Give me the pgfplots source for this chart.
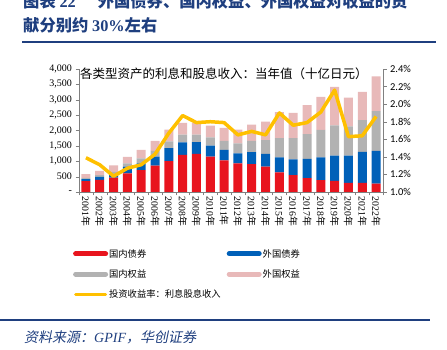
\documentclass[border=0pt]{standalone}
\usepackage{fontspec}
\usepackage{pgfplots}
\usepackage{pgfplotstable}
\pgfplotsset{compat=1.18}
\setmainfont{Liberation Serif}
\newfontfamily\cjk{Noto Sans CJK SC}
\newfontfamily\cjki{Noto Sans CJK SC}[FakeSlant=0.2]
\newfontfamily\carl{Carlito}
\definecolor{cRed}{HTML}{E8141E}
\definecolor{cBlue}{HTML}{0060B8}
\definecolor{cGrey}{HTML}{B2B2B2}
\definecolor{cPink}{HTML}{E8B9B9}
\definecolor{cYel}{HTML}{FFC000}
\definecolor{cNavy}{HTML}{1F3F7F}
\definecolor{cAx}{HTML}{808080}
\newcommand{\yr}[1]{#1{\cjk 年}}
\pgfplotstableread{
x red blue grey pink rate
0 351 65 44 120 1.39
1 395 98 55 142 1.31
2 465 83 110 208 1.18
3 603 219 110 208 1.27
4 712 220 164 274 1.31
5 855 296 186 329 1.43
6 1008 417 219 384 1.67
7 1206 405 252 384 1.87
8 1238 384 241 384 1.79
9 1151 361 264 383 1.80
10 1030 340 296 416 1.79
11 932 328 318 450 1.65
12 910 383 373 526 1.69
13 822 416 450 602 1.65
14 636 493 625 843 1.90
15 548 515 691 822 1.76
16 449 625 811 943 1.79
17 384 745 888 1074 1.91
18 362 822 986 1250 2.16
19 296 888 953 932 1.63
20 296 1008 1030 921 1.64
21 274 1063 1293 1129 1.86
}\data
\begin{document}
\begin{tikzpicture}[x=1pt,y=1pt]
\useasboundingbox (0,0) rectangle (447,350);
% titles
\node[anchor=west,text=cNavy,font=\cjk\bfseries\fontsize{16.3}{17}\selectfont,inner sep=0] at (23,349) {图表 {\rmfamily\bfseries 22}\hspace{22pt}外国债券、国内权益、外国权益对收益的贡};
\node[anchor=west,text=cNavy,font=\cjk\bfseries\fontsize{16.3}{17}\selectfont,inner sep=0] at (23,325) {献分别约 {\rmfamily\bfseries 30\%}左右};
\draw[cNavy,line width=1.5pt] (22,308) -- (436,308);
\begin{axis}[
  at={(79pt,158pt)}, anchor=south west,
  width=304pt, height=123pt, scale only axis,
  xmin=-0.5, xmax=21.5, ymin=0, ymax=4000,
  ybar stacked, bar width=9pt,
  axis x line*=bottom, axis y line*=left,
  axis line style={draw=cAx,-},
  tick align=outside,
  major tick length=3.5pt,
  ytick={0,500,...,4000},
  yticklabels={-,500,{1,000},{1,500},{2,000},{2,500},{3,000},{3,500},{4,000}},
  yticklabel style={font=\fontsize{10}{10}\selectfont},
  y tick style={draw=cAx},
  xtick={0,...,21},
  xticklabels={\yr{2001},\yr{2002},\yr{2003},\yr{2004},\yr{2005},\yr{2006},\yr{2007},\yr{2008},\yr{2009},\yr{2010},\yr{2011},\yr{2012},\yr{2013},\yr{2014},\yr{2015},\yr{2016},\yr{2017},\yr{2018},\yr{2019},\yr{2020},\yr{2021},\yr{2022}},
  xticklabel style={rotate=-90,anchor=west,font=\fontsize{9.8}{10}\selectfont,inner sep=1pt},
  major x tick style={draw=none},
  minor xtick={-0.5,0.5,...,21.5},
  minor x tick style={draw=cAx},
  minor tick length=3.5pt,
  legend columns=2,
  legend style={at={(-0.02,-0.455)},anchor=north west,draw=none,fill=none,inner sep=0pt,
    font=\cjk\fontsize{9.3}{10}\selectfont,row sep=9pt,
    nodes={inner sep=1pt},
    /tikz/every even column/.append style={column sep=5pt}},
  legend cell align=left,
]
\addplot[fill=cRed,draw=none,forget plot] table[x=x,y=red]{\data};
\addplot[fill=cBlue,draw=none,forget plot] table[x=x,y=blue]{\data};
\addplot[fill=cGrey,draw=none,forget plot] table[x=x,y=grey]{\data};
\addplot[fill=cPink,draw=none,forget plot] table[x=x,y=pink]{\data};
\addlegendimage{legend image code/.code={\draw[line width=5pt,cRed,line cap=round] (0pt,0pt) -- (30pt,0pt);}}
\addlegendentry{国内债券}
\addlegendimage{legend image code/.code={\draw[line width=5pt,cBlue,line cap=round] (0pt,0pt) -- (30pt,0pt);}}
\addlegendentry{外国债券}
\addlegendimage{legend image code/.code={\draw[line width=5pt,cGrey,line cap=round] (0pt,0pt) -- (30pt,0pt);}}
\addlegendentry{国内权益}
\addlegendimage{legend image code/.code={\draw[line width=5pt,cPink,line cap=round] (0pt,0pt) -- (30pt,0pt);}}
\addlegendentry{外国权益}
\addlegendimage{legend image code/.code={\draw[line width=2.8pt,cYel,line cap=round] (0pt,0pt) -- (30pt,0pt);}}
\addlegendentry{投资收益率：利息股息收入}
\end{axis}
\begin{axis}[
  at={(79pt,158pt)}, anchor=south west,
  width=304pt, height=123pt, scale only axis,
  xmin=-0.5, xmax=21.5, ymin=1.0, ymax=2.4,
  axis x line=none, axis y line*=right,
  axis line style={draw=cAx,-},
  tick align=outside, major tick length=3.5pt,
  y tick style={draw=cAx},
  ytick={1.0,1.2,...,2.41},
  yticklabels={1.0\%,1.2\%,1.4\%,1.6\%,1.8\%,2.0\%,2.2\%,2.4\%},
  yticklabel style={font=\carl\fontsize{10.5}{11}\selectfont},
]
\addplot[cYel,line width=3.5pt,no marks,line join=round] table[x=x,y=rate]{\data};
\end{axis}
\node[anchor=west,font=\cjk\fontsize{12.5}{13}\selectfont,inner sep=0] at (80,276.5) {各类型资产的利息和股息收入：当年值（十亿日元）};
\draw[cNavy,line width=1.2pt] (0,30) -- (430,30);
\node[anchor=west,text=cNavy,font=\cjki\fontsize{14}{15}\selectfont,inner sep=0] at (24,13) {资料来源：{\rmfamily\itshape GPIF}，华创证券};
\end{tikzpicture}
\end{document}
